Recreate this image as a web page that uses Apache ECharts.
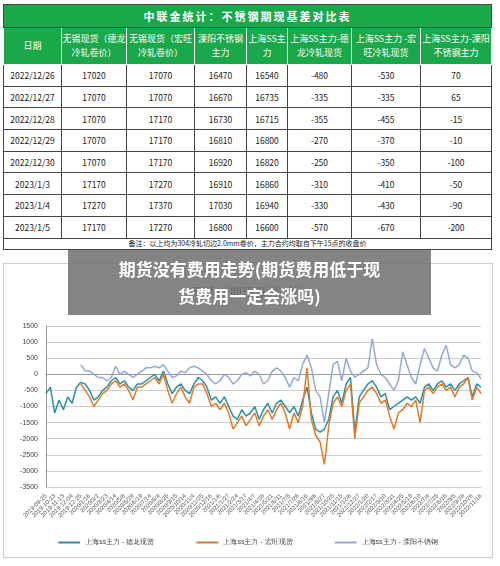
<!DOCTYPE html>
<html><head><meta charset="utf-8">
<script src="https://cdn.jsdelivr.net/npm/echarts@6/dist/echarts.min.js"></script>
<style>
body{margin:0;width:500px;height:566px;background:#fff;font-family:"Noto Sans CJK SC",sans-serif;position:relative;overflow:hidden}
table{position:absolute;left:3px;top:4px;width:488px;border-collapse:collapse;font-size:8.5px;table-layout:fixed}
td{border:1px solid #444;text-align:center;padding:0;color:#222}
.t{background:#1aa84a;color:#fff;font-weight:bold;font-size:11px;height:22px;letter-spacing:2px}
.h td{background:#1aa84a;color:#fff;height:36px;line-height:14px;font-size:9px;border-color:#fff}
.r td{height:20.7px}
.n td{height:10px;font-size:7px;line-height:9px}
#c{position:absolute;left:3px;top:263px;width:490px;height:295px;border:1px solid #ccc;box-sizing:border-box}
#ov{position:absolute;left:68px;top:250px;width:363px;height:65px;background:rgba(115,115,115,0.88);color:#fff;font-weight:bold;font-size:17px;text-align:center;line-height:27px;padding-top:5px;box-sizing:border-box}
</style></head><body>
<table id="tb"></table>
<div id="c"></div>
<div id="ov">期货没有费用走势(期货费用低于现<br>货费用一定会涨吗)</div>
<script>
const tableTitle="中联金统计：不锈钢期现基差对比表";
const headers=["日期","无锡现货（德龙冷轧卷价）","无锡现货（宏旺冷轧卷价）","溧阳不锈钢主力","上海SS主力","上海SS主力-德龙冷轧现货","上海SS主力 -宏旺冷轧现货","上海SS主力-溧阳不锈钢主力"];
const rowDates=["2022/12/26","2022/12/27","2022/12/28","2022/12/29","2022/12/30","2023/1/3","2023/1/4","2023/1/5"];
const delong=[17020,17070,17070,17070,17070,17170,17270,17170];
const hongwang=[17070,17070,17170,17170,17170,17270,17370,17270];
const liyang=[16470,16670,16730,16810,16920,16910,17030,16800];
const shss=[16540,16735,16715,16800,16820,16860,16940,16600];
const diffDL=[-480,-335,-355,-270,-250,-310,-330,-570];
const diffHW=[-530,-335,-455,-370,-350,-410,-430,-670];
const diffLY=[70,65,-15,-10,-100,-50,-90,-200];
const note="备注：以上均为304冷轧切边2.0mm卷价，主力合约均取自下午15点的收盘价";
const colW=[58,65,68,52,41,64,69,71];
let h='<colgroup>'+colW.map(w=>'<col style="width:'+w+'px">').join('')+'</colgroup>';
h+='<tr><td class="t" colspan="8">'+tableTitle+'</td></tr><tr class="h">'+headers.map(x=>'<td>'+x+'</td>').join('')+'</tr>';
rowDates.forEach((d,i)=>{h+='<tr class="r">'+[d,delong[i],hongwang[i],liyang[i],shss[i],diffDL[i],diffHW[i],diffLY[i]].map(x=>'<td>'+x+'</td>').join('')+'</tr>';});
h+='<tr class="n"><td colspan="8">'+note+'</td></tr>';
document.getElementById('tb').innerHTML=h;

const tickLabels=["2019-09-25","2019-10-23","2019-11-13","2019-12-04","2019-12-25","2020/1/16","2020/3/2","2020/3/23","2020/4/14","2020/5/8","2020/5/29","2020/6/19","2020/7/14","2020/8/4","2020/8/25","2020/9/15","2020/10/14","2020/11/4","2020/11/25","2020/12/16","2021/1/6","2021/1/27","2021/2/24","2021/3/17","2021/4/7","2021/4/28","2021/5/21","2021/6/11","2021/7/5","2021/7/26","2021/8/16","2021/9/6","2021/9/27","2021/10/25","2021/11/15","2021/12/6","2021/12/27","2022/1/20","2022/2/17","2022/3/10","2022/3/31","2022/4/25","2022/5/19","2022/6/10","2022/7/4","2022/7/25","2022/8/15","2022/9/5","2022/9/28","2022/10/26","2022/11/16"];
const sDL=[-600,-400,-1200,-800,-1100,-700,-900,-400,-250,-300,-500,-800,-700,-500,-400,-200,-100,-300,-200,-400,-500,-300,-300,-200,-100,0,-200,100,-300,-600,-400,-300,-500,-600,-300,-100,-200,-400,-800,-700,-900,-700,-1000,-1300,-1400,-1100,-1300,-1200,-1000,-1400,-1100,-900,-1200,-900,-800,-1000,-1200,-1000,-1300,-800,-400,-1200,-1700,-1800,-1700,-1400,-700,-500,-900,-300,-100,-1800,-700,-500,-300,-200,-400,-700,-600,-1100,-1000,-900,-800,-700,-800,-700,-900,-400,-300,-500,-300,-200,-400,-300,-500,-300,-200,-100,-700,-300,-400];
const sHW=[null,null,null,null,null,null,null,null,-300,-500,-700,-1000,-800,-600,-500,-300,-200,-400,-300,-500,-800,-400,-400,-300,-200,-100,-300,0,-500,-900,-600,-400,-700,-900,-400,-300,-300,-600,-1000,-900,-1100,-900,-1200,-1700,-1500,-1300,-1600,-1400,-1200,-1600,-1300,-1100,-1400,-1100,-900,-1200,-1700,-1200,-1500,-1000,200,-1400,-1900,-2100,-2800,-1600,-900,-700,-1000,-500,-300,-2000,-900,-700,-500,-400,-600,-900,-800,-1300,-1700,-1200,-1100,-900,-1000,-800,-1500,-500,-400,-600,-400,-300,-500,-400,-700,-400,-300,-100,-800,-400,-600];
const sLY=[null,null,null,null,null,null,null,null,300,100,100,0,-100,-100,-200,-100,250,0,100,0,-100,0,100,200,200,250,200,300,100,-100,-50,100,50,200,250,200,100,0,-200,-300,-200,0,-100,-300,-200,0,50,-50,100,0,-300,-200,100,200,100,-100,-400,-100,-200,300,600,200,-500,-700,-1500,-600,300,400,-200,500,100,-100,0,100,200,1100,300,0,-100,-300,-500,-200,700,300,-100,-300,300,800,500,200,100,600,900,300,200,300,600,500,100,50,-150];
const cats=sDL.map((_,i)=>i%2===0?tickLabels[i/2]:'#'+i);
const chart=echarts.init(document.getElementById('c'));
chart.setOption({
 animation:false,
 title:{text:'不锈钢期现基差对比',left:'center',top:18,textStyle:{fontSize:13,color:'#444',fontWeight:'normal'}},
 grid:{left:42,right:11,top:62,bottom:70},
 legend:{bottom:6,itemWidth:22,itemHeight:2,itemGap:42,icon:'rect',textStyle:{fontSize:7,color:'#444'},data:['上海ss主力 - 德龙现货','上海ss主力 - 宏旺现货','上海ss主力 - 溧阳不锈钢']},
 xAxis:{type:'category',data:cats,boundaryGap:false,axisLine:{lineStyle:{color:'#999'}},axisTick:{show:false},
  axisLabel:{interval:0,rotate:45,fontSize:6,color:'#555',formatter:v=>v[0]==='#'?'':v}},
 yAxis:{type:'value',min:-3500,max:1500,interval:500,axisLine:{show:true,lineStyle:{color:'#999'}},axisLabel:{fontSize:7,color:'#444',formatter:v=>String(v)},splitLine:{lineStyle:{color:'#ccc'}}},
 series:[
  {name:'上海ss主力 - 德龙现货',type:'line',data:sDL,symbol:'none',lineStyle:{width:1.5,color:'#2e8fa8'},itemStyle:{color:'#2e8fa8'}},
  {name:'上海ss主力 - 宏旺现货',type:'line',data:sHW,symbol:'none',lineStyle:{width:1.5,color:'#e07b2a'},itemStyle:{color:'#e07b2a'}},
  {name:'上海ss主力 - 溧阳不锈钢',type:'line',data:sLY,symbol:'none',lineStyle:{width:1.5,color:'#94a9d6'},itemStyle:{color:'#94a9d6'}}
 ]
});
</script></body></html>
